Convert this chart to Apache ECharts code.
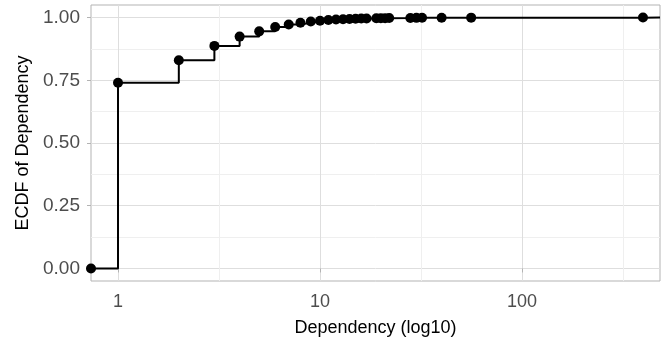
<!DOCTYPE html>
<html>
<head>
<meta charset="utf-8">
<title>ECDF of Dependency</title>
<script src="https://cdn.jsdelivr.net/npm/echarts@6/dist/echarts.min.js"></script>
<style>
    html, body { margin: 0; padding: 0; background: #fff; }
    #ecdf { width: 661px; height: 342px; }
</style>
</head>
<body>
<div id="ecdf"></div>
<script>
// data -------------------------------------------------------------
const xEdges = [0.735, 482];
const dependency = [1, 2, 3, 4, 5, 6, 7, 8, 9, 10, 11, 12, 13, 14, 15, 16, 17, 19, 20, 21, 22, 28, 30, 32, 40, 56, 397];
const ecdf = [0.740, 0.830, 0.887, 0.924, 0.945, 0.962, 0.972, 0.979, 0.984, 0.987, 0.990, 0.992, 0.993, 0.994,
    0.995, 0.996, 0.9965, 0.997, 0.9973, 0.9976, 0.998, 0.9984, 0.9987, 0.999, 0.9993, 0.9996, 1.0];
const xMajor = [1, 10, 100];
const xMinor = [3.1623, 31.623, 316.23];
const yMajor = [0, 0.25, 0.5, 0.75, 1];
const yMinor = [0.125, 0.375, 0.625, 0.875];

document.addEventListener('DOMContentLoaded', function() {
    const font = 'Liberation Sans, Arial, Helvetica, sans-serif';

    const points = dependency.map((d, i) => [d, ecdf[i]]);
    // stat_ecdf pads the step to the panel edges
    const steps = [[xEdges[0], 0]].concat(points, [[xEdges[1], 1]]);

    const gridLine = (color) => ({show: true, lineStyle: {color: color, width: 1}});

    const xAxisBase = (values, major) => ({
        type: 'log',
        position: 'bottom',
        offset: 0,
        min: xEdges[0],
        max: xEdges[1],
        axisLine: {show: false},
        axisTick: major
            ? {show: true, customValues: values, length: 4, lineStyle: {color: '#B3B3B3'}}
            : {show: false, customValues: values},
        axisLabel: major
            ? {show: true, customValues: values, margin: 12, color: '#4D4D4D', fontSize: 18, fontFamily: font,
               formatter: (v) => String(Math.round(v))}
            : {show: false, customValues: values},
        splitLine: gridLine(major ? '#DEDEDE' : '#EFEFEF'),
        minorSplitLine: {show: false}
    });

    const yAxisBase = (values, major) => ({
        type: 'value',
        position: 'left',
        offset: 0,
        min: -0.05,
        max: 1.05,
        axisLine: {show: false},
        axisTick: major
            ? {show: true, customValues: values, length: 4, lineStyle: {color: '#B3B3B3'}}
            : {show: false, customValues: values},
        axisLabel: major
            ? {show: true, customValues: values, margin: 11, color: '#4D4D4D', fontSize: 19, fontFamily: font,
               formatter: (v) => v.toFixed(2)}
            : {show: false, customValues: values},
        splitLine: gridLine(major ? '#DEDEDE' : '#EFEFEF')
    });

    const chart = echarts.init(document.getElementById('ecdf'));

    chart.setOption({
        animation: false,
        backgroundColor: '#fff',
        grid: {
            left: 91,
            right: 1,
            top: 5,
            bottom: 59,
            show: true,
            borderColor: '#B3B3B3',
            borderWidth: 1,
            backgroundColor: 'transparent'
        },
        xAxis: [
            xAxisBase(xMinor, false),
            Object.assign(xAxisBase(xMajor, true), {
                name: 'Dependency (log10)',
                nameLocation: 'middle',
                nameGap: 38,
                nameTextStyle: {color: '#000', fontSize: 18, fontFamily: font}
            })
        ],
        yAxis: [
            yAxisBase(yMinor, false),
            Object.assign(yAxisBase(yMajor, true), {
                name: 'ECDF of Dependency',
                nameLocation: 'middle',
                nameGap: 57,
                nameTextStyle: {color: '#000', fontSize: 18, fontFamily: font}
            })
        ],
        series: [
            {
                name: 'ecdf step',
                type: 'line',
                step: 'end',
                xAxisIndex: 1,
                yAxisIndex: 1,
                showSymbol: false,
                symbol: 'none',
                lineStyle: {color: '#000', width: 2},
                data: steps
            },
            {
                name: 'ecdf points',
                type: 'scatter',
                xAxisIndex: 1,
                yAxisIndex: 1,
                symbolSize: 10,
                itemStyle: {color: '#000', opacity: 1},
                data: [[xEdges[0], 0]].concat(points)
            }
        ]
    });
});
</script>
</body>
</html>
